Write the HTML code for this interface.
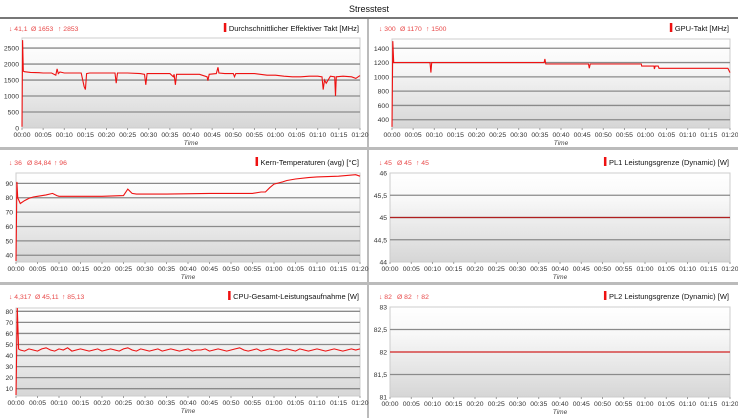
<!DOCTYPE html>
<html><head><meta charset="utf-8"><style>
body{margin:0;width:738px;height:418px;overflow:hidden;background:#fff;font-family:"Liberation Sans",sans-serif}
svg{display:block}
</style></head><body>
<svg id="root" width="738" height="418">
<defs><linearGradient id="bg" x1="0" y1="0" x2="0" y2="1"><stop offset="0" stop-color="#ffffff"/><stop offset="0.3" stop-color="#f8f8f8"/><stop offset="1" stop-color="#d6d6d6"/></linearGradient></defs>
<rect x="0" y="0" width="738" height="418" fill="#fff"/>
<text x="369" y="12" text-anchor="middle" font-size="9" fill="#111">Stresstest</text>
<rect x="0" y="17" width="738" height="2" fill="#777"/>
<rect x="0" y="147" width="738" height="3" fill="#bbb"/>
<rect x="0" y="282" width="738" height="3" fill="#bbb"/>
<rect x="367" y="19" width="2" height="399" fill="#bbb"/>
</svg>
<script>
const xTickLabels=["00:00","00:05","00:10","00:15","00:20","00:25","00:30","00:35","00:40","00:45","00:50","00:55","01:00","01:05","01:10","01:15","01:20"];
// chart 1: CPU clock
const clkT=[0,0.15,0.3,0.6,2,4,5,7,8,8.3,8.6,9,10,12,14,14.7,15,15.3,16,20,22,22.3,22.6,25,28,29,29.3,29.6,32,35,35.8,36,36.3,36.6,40,42,43.8,44,44.3,46,46.4,46.6,48,50,50.3,50.6,55,58,60,62,64,66,68,70,71,71.3,71.6,72,73,74,74.2,74.4,76,78,79,80];
const clkV=[41,2750,1780,1760,1740,1730,1720,1720,1650,1850,1700,1750,1720,1720,1720,1300,1200,1700,1720,1720,1720,1400,1720,1720,1700,1680,1350,1700,1700,1700,1600,1680,1350,1680,1680,1680,1600,1480,1680,1700,1900,1720,1700,1700,1600,1700,1700,1650,1650,1620,1600,1600,1620,1620,1600,1200,1500,1400,1620,1600,1000,1600,1620,1600,1550,1640];
// chart 2: core temperature
const tmpT=[0,0.2,0.4,1,2,3,4,5,7,8.5,9.5,10,15,20,25,26,27,28,35,45,55,57,58,59,60,62,63,65,68,70,75,79,80];
const tmpV=[36,91,80,76,78,79.5,80.5,81,82,83,81.5,81,81,81,81.5,86,83,82.5,82.5,83,83,84,84,87,89.5,91,92,93,94,94.5,95,96,95];
// chart 3: CPU power
const pwrT=[0,0.3,0.6,1,2,3,4,5,6,7,8,9,10,11,12,13,14,15,16,17,18,19,20,21,22,23,24,25,26,27,28,29,30,31,32,33,34,35,36,37,38,39,40,41,42,43,44,45,46,47,48,49,50,51,52,53,54,55,56,57,58,59,60,61,62,63,64,65,66,67,68,69,70,71,72,73,74,75,76,77,78,79,80];
const pwrV=[4.3,83,46,45,44,46,45,44,46,47,45,44,46,45,47,44,45,46,45,44,45,46,44,45,46,45,44,46,47,45,44,46,45,44,45,46,44,45,46,45,44,45,46,44,45,45,46,44,45,46,45,44,45,46,47,45,44,45,46,44,45,46,45,44,45,46,45,44,46,45,44,45,46,45,44,45,46,45,44,45,46,45,46];
// chart 4: GPU clock
const gpuT=[0,0.2,0.4,3,9,9.2,9.4,20,30,36,36.2,36.4,40,46.5,46.7,46.9,59,59.1,62,62.1,62.3,63,63.2,70,79.5,80];
const gpuV=[300,1500,1200,1200,1200,1060,1200,1200,1200,1200,1250,1180,1180,1180,1120,1180,1180,1150,1150,1110,1150,1150,1120,1120,1120,1060];
// chart 5,6
const pl1T=[0,80], pl1V=[45,45];
const pl2T=[0,80], pl2V=[82,82];

const charts=[
 {name:"cpu-clock",x0:22,x1:360,y0:38,y1:128,min:0,max:2815,ticks:[0,500,1000,1500,2000,2500],lab:v=>String(v),T:clkT,V:clkV,title:"Durchschnittlicher Effektiver Takt [MHz]",stats:["↓ 41,1","Ø 1653","↑ 2853"],sx:[9,31,58],ox:0,hy:31},
 {name:"core-temp",x0:16,x1:360,y0:173,y1:262,min:35.3,max:97.2,ticks:[40,50,60,70,80,90],lab:v=>String(v),T:tmpT,V:tmpV,title:"Kern-Temperaturen (avg) [°C]",stats:["↓ 36","Ø 84,84","↑ 96"],sx:[9,27,54],ox:0,hy:165},
 {name:"cpu-power",x0:16,x1:360,y0:308,y1:396,min:3.4,max:83,ticks:[10,20,30,40,50,60,70,80],lab:v=>String(v),T:pwrT,V:pwrV,title:"CPU-Gesamt-Leistungsaufnahme [W]",stats:["↓ 4,317","Ø 45,11","↑ 85,13"],sx:[9,35,62],ox:0,hy:299},
 {name:"gpu-clock",x0:392,x1:730,y0:39,y1:128,min:284,max:1530,ticks:[400,600,800,1000,1200,1400],lab:v=>String(v),T:gpuT,V:gpuV,title:"GPU-Takt [MHz]",stats:["↓ 300","Ø 1170","↑ 1500"],sx:[9,30,56],ox:370,hy:31},
 {name:"pl1-limit",x0:390,x1:730,y0:173,y1:262,min:44,max:46,ticks:[44,44.5,45,45.5,46],lab:v=>String(v).replace('.',','),T:pl1T,V:pl1V,title:"PL1 Leistungsgrenze (Dynamic) [W]",stats:["↓ 45","Ø 45","↑ 45"],sx:[9,27,46],ox:370,hy:165,line:"#b02020"},
 {name:"pl2-limit",x0:390,x1:730,y0:307,y1:397,min:81,max:83,ticks:[81,81.5,82,82.5,83],lab:v=>String(v).replace('.',','),T:pl2T,V:pl2V,title:"PL2 Leistungsgrenze (Dynamic) [W]",stats:["↓ 82","Ø 82","↑ 82"],sx:[9,27,46],ox:370,hy:299,line:"#e03030"}
];
const NS="http://www.w3.org/2000/svg";
const root=document.getElementById('root');
function mk(tag,attrs,parent,text){const e=document.createElementNS(NS,tag);for(const k in attrs)e.setAttribute(k,attrs[k]);if(text!==undefined)e.textContent=text;(parent||root).appendChild(e);return e;}
charts.forEach(c=>{
 const g=mk('g',{});
 
 
 const xs=t=>c.x0+t/80*(c.x1-c.x0);
 const ys=v=>c.y1-(v-c.min)/(c.max-c.min)*(c.y1-c.y0);
 const bg=mk('rect',{x:c.x0,y:c.y0,width:c.x1-c.x0,height:c.y1-c.y0,fill:'url(#bg)',stroke:'#ccc','stroke-width':1},g);
 
 
 c.ticks.forEach(v=>{
  const y=ys(v);
  if(y>c.y0+1&&y<c.y1-1){const l=mk('line',{x1:c.x0,x2:c.x1,y1:y,y2:y,stroke:'#8a8a8a','stroke-width':1.3},g);
  
  }
  const t=mk('text',{x:c.x0-3,y:y+2.5,'text-anchor':'end','font-size':6.8,fill:'#333'},g,c.lab(v));
  
  
 });
 xTickLabels.forEach((s,i)=>{
  const x=xs(i*5);
  mk('line',{x1:x,x2:x,y1:c.y1,y2:c.y1+2,stroke:'#888','stroke-width':0.8},g);
  const t=mk('text',{x:x,y:c.y1+9,'text-anchor':'middle','font-size':6.8,fill:'#333'},g,s);
  
  
 });
 const tt=mk('text',{x:(c.x0+c.x1)/2,y:c.y1+17,'text-anchor':'middle','font-size':6.5,'font-style':'italic',fill:'#444'},g,'Time');
 
 
 let d='';c.T.forEach((t,i)=>{d+=(i?'L':'M')+xs(t).toFixed(1)+','+ys(c.V[i]).toFixed(1);});
 const p=mk('path',{d:d,fill:'none',stroke:c.line||'#ee1111','stroke-width':c.line?1.2:1.1},g);
 
 
 c.stats.forEach((s,i)=>{const t=mk('text',{x:c.ox+c.sx[i],y:c.hy,'font-size':6.8,fill:'#e84848'},g,s);
  
  });
 const lt=mk('text',{x:c.ox+359,y:c.hy,'text-anchor':'end','font-size':7.5,fill:'#111'},g,c.title);
 
 
 const w=lt.getComputedTextLength();
 const sw=mk('rect',{x:c.ox+359-w-5,y:c.hy-8,width:2.5,height:9,fill:'#ee1111'},g);
 
 
});
</script>
</body></html>
